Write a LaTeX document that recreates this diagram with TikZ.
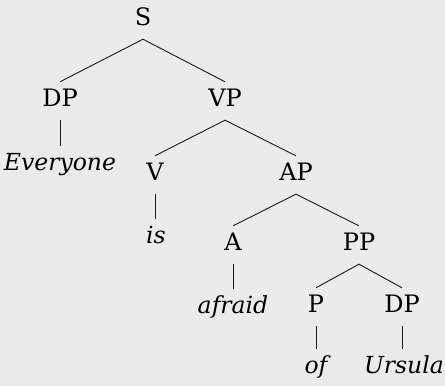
\documentclass[tikz,border=0pt]{standalone}
\usepackage{fontspec}
\setmainfont{DejaVu Serif}
\begin{document}
\begin{tikzpicture}[x=1pt,y=-1pt,
  every node/.style={font=\fontsize{24}{28}\selectfont, anchor=base, text height=18pt, text depth=8pt, inner xsep=2pt, inner ysep=6pt},
  leaf/.style={font=\fontsize{23.5}{28}\selectfont\itshape},
  edge/.style={draw=black!90, line width=0.9pt}]
\fill[black!8] (0,0) rectangle (445,386);
\useasboundingbox (0,0) rectangle (445,386);
\node (S) at (143,25) {S};
\node (DP1) at (60,106) {DP};
\node (VP) at (225,106) {VP};
\node[leaf] (ev) at (60,170) {Everyone};
\node (V) at (155,180) {V};
\node (AP) at (296,180) {AP};
\node[leaf] (is) at (156,243) {is};
\node (A) at (233,250) {A};
\node (PP) at (359,250) {PP};
\node[leaf] (af) at (233,313) {afraid};
\node (P) at (316,312) {P};
\node (DP2) at (402,312) {DP};
\node[leaf] (of) at (316,373) {of};
\node[leaf] (ur) at (404,373) {Ursula};
\draw[edge] (DP1.north) -- (S.south) -- (VP.north);
\draw[edge] (DP1.south) -- (ev.north);
\draw[edge] (V.north) -- (VP.south) -- (AP.north);
\draw[edge] (V.south) -- (V.south |- is.north);
\draw[edge] (A.north) -- (AP.south) -- (PP.north);
\draw[edge] (A.south) -- (af.north);
\draw[edge] (P.north) -- (PP.south) -- (DP2.north);
\draw[edge] (P.south) -- (of.north);
\draw[edge] (DP2.south) -- (DP2.south |- ur.north);
\end{tikzpicture}
\end{document}
